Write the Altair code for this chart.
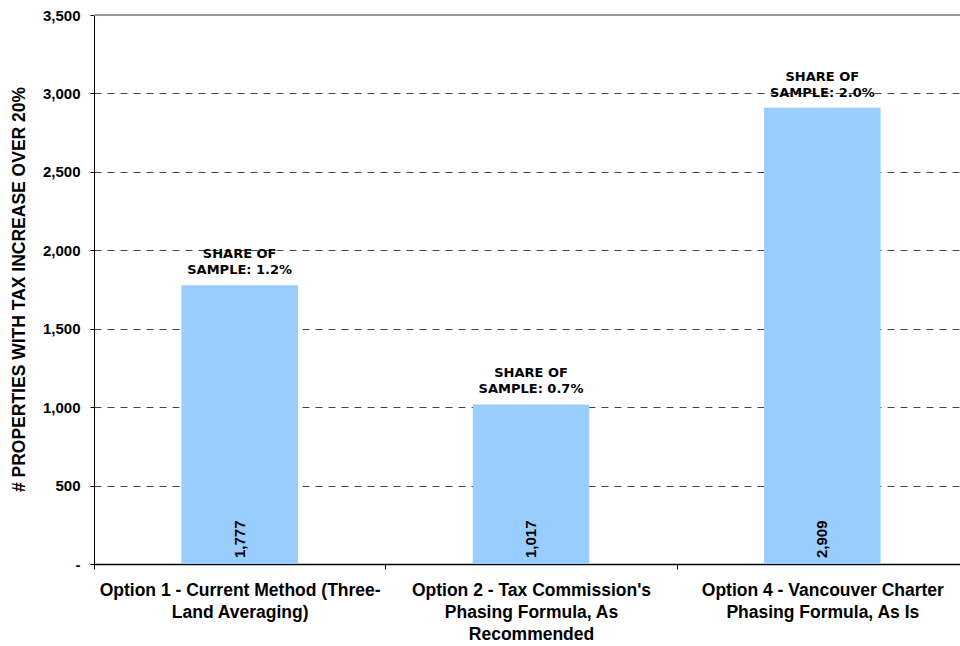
import altair as alt
import pandas as pd

categories = [
    "Option 1 - Current Method (Three-|Land Averaging)",
    "Option 2 - Tax Commission's|Phasing Formula, As|Recommended",
    "Option 4 - Vancouver Charter|Phasing Formula, As Is",
]
counts = [1777, 1017, 2909]
share_pct = ["1.2%", "0.7%", "2.0%"]
y_ticks = [0, 500, 1000, 1500, 2000, 2500, 3000, 3500]

df = pd.DataFrame({
    "cat": categories,
    "count": counts,
    "share": ["SHARE OF\nSAMPLE: " + s for s in share_pct],
})

AR = "Liberation Sans"

x_enc = alt.X(
    "cat:N",
    sort=categories,
    scale=alt.Scale(paddingInner=0, paddingOuter=0, range=[0, 874]),
    axis=alt.Axis(
        title=None,
        labelAngle=0,
        labelExpr="split(datum.label, '|')",
        labelFont=AR,
        labelFontSize=17.5,
        labelFontWeight="bold",
        labelColor="#000",
        labelLineHeight=22,
        labelBaseline="top",
        labelPadding=12,
        labelLimit=400,
        tickBand="extent",
        tickSize=5,
        tickColor="#000",
        domainColor="#000",
        domainWidth=1.5,
        grid=False,
    ),
)

y_scale = alt.Scale(domain=[0, 3500], nice=False)
y_enc = alt.Y(
    "count:Q",
    scale=y_scale,
    axis=alt.Axis(
        title="# PROPERTIES WITH TAX INCREASE OVER 20%",
        titleFont=AR,
        titleFontSize=17.5,
        titleFontWeight="bold",
        titleColor="#000",
        titleAngle=270,
        titleAlign="center",
        titleBaseline="middle",
        titleX=-75,
        titleY=274,
        values=y_ticks,
        labelExpr="datum.value == 0 ? '-\u00a0\u00a0\u00a0\u00a0' : format(datum.value, ',')",
        labelFont=AR,
        labelFontSize=15,
        labelFontWeight="bold",
        labelColor="#000",
        labelPadding=10,
        tickSize=4,
        tickColor="#000",
        domainColor="#000",
        domainWidth=1,
        grid=True,
        gridDash=[7, 6],
        gridColor="#444",
        gridWidth=1,
    ),
)

base = alt.Chart(df)

bars = base.mark_bar(color="#99CCFF", width={"band": 0.4}).encode(x=x_enc, y=y_enc)

top_rule = base.mark_rule(color="#999", strokeWidth=2).encode(
    y=alt.datum(3500, scale=y_scale)
)

values = base.mark_text(
    angle=270, align="left", baseline="middle", dx=6,
    font=AR, fontSize=15, fontWeight="bold", color="#000",
).encode(
    x=alt.X("cat:N", sort=categories),
    y=alt.datum(0),
    text=alt.Text("count:Q", format=","),
)

shares = base.mark_text(
    align="center", baseline="bottom", dy=-24, lineBreak="\n", lineHeight=16,
    font="DejaVu Sans", fontSize=13, fontWeight="bold", color="#000",
).encode(
    x=alt.X("cat:N", sort=categories),
    y=alt.Y("count:Q"),
    text="share:N",
)

chart = alt.layer(top_rule, bars, values, shares).properties(
    width=866,
    height=549,
    autosize=alt.AutoSizeParams(type="none"),
    padding={"left": 94, "top": 15, "right": 0, "bottom": 82},
    background="white",
).configure_view(stroke=None)

chart.save("out.html", embed_options={"renderer": "svg", "actions": False})
